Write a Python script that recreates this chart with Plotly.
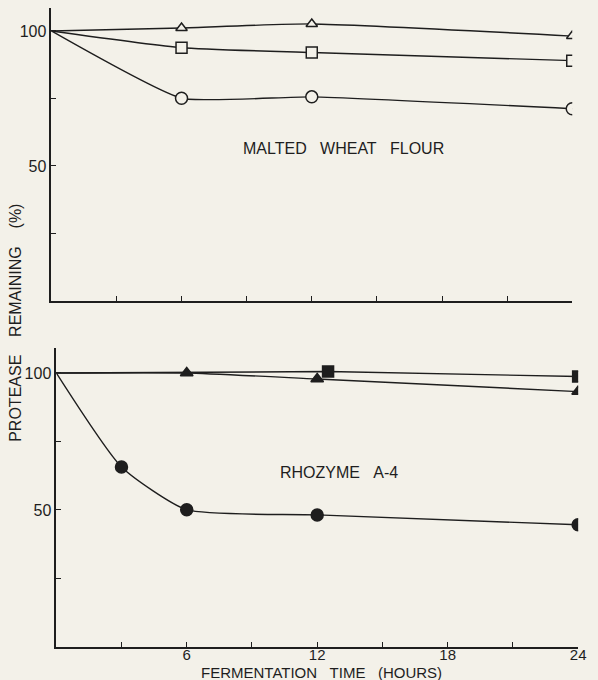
import plotly.graph_objects as go

# ---- data ----
hours_tri_top = [0, 6, 12, 24]
tri_top = [100, 101.1, 102.6, 98.1]
hours_sq_top = [0, 6, 12, 24]
sq_top = [100, 93.8, 92.0, 89.0]
hours_circ_top = [0, 6, 12, 24]
circ_top = [100, 75.1, 75.6, 71.2]

hours_circ_bot = [0, 3, 6, 12, 24]
circ_bot = [100, 65.7, 50.1, 48.2, 44.6]
hours_tri_bot = [0, 6, 12, 24]
tri_bot = [100, 100.0, 97.8, 93.2]
hours_sq_bot = [0, 12.5, 24]
sq_bot = [100, 100.5, 98.7]

x_tickvals = [3, 6, 9, 12, 15, 18, 21, 24]
x_ticktext = ["", "6", "", "12", "", "18", "", "24"]
y_tickvals = [25, 50, 75, 100]
y_ticktext = ["", "50", "", "100"]

BG = "#f3f1e9"
INK = "#1e1e1e"
FONT = "Liberation Sans, Arial, sans-serif"
SP = "\u00a0\u00a0\u00a0"

fig = go.Figure()

def add(xs, ys, symbol, filled, xa, ya, size=11, smooth=0.5):
    fig.add_trace(go.Scatter(
        x=xs, y=ys, mode="lines",
        line=dict(color=INK, width=1.4, shape="spline", smoothing=smooth),
        xaxis=xa, yaxis=ya, showlegend=False, hoverinfo="skip"))
    fig.add_trace(go.Scatter(
        x=xs[1:], y=ys[1:], mode="markers",
        marker=dict(symbol=symbol, size=size,
                    color=INK if filled else BG,
                    line=dict(color=INK, width=1.5)),
        xaxis=xa, yaxis=ya, showlegend=False))

add(hours_tri_top, tri_top, "triangle-up", False, "x", "y", 10)
add(hours_sq_top, sq_top, "square", False, "x", "y", 11)
add(hours_circ_top, circ_top, "circle", False, "x", "y", 12, 0.45)

add(hours_circ_bot, circ_bot, "circle", True, "x2", "y2", 12, 0.55)
add(hours_tri_bot, tri_bot, "triangle-up", True, "x2", "y2", 11)
add(hours_sq_bot, sq_bot, "square", True, "x2", "y2", 11)

axis_common = dict(showgrid=False, zeroline=False, showline=True,
                   linecolor=INK, linewidth=1.5, ticks="inside",
                   ticklen=5, tickwidth=1.3, tickcolor=INK)
tick_font = dict(family=FONT, size=16, color=INK)

ann_font = dict(family=FONT, size=16, color=INK)

fig.update_layout(
    width=598, height=680,
    margin=dict(l=0, r=0, t=0, b=0),
    paper_bgcolor=BG, plot_bgcolor=BG,
    xaxis=dict(domain=[52/598, 580/598], range=[0, 24], anchor="y",
               tickvals=x_tickvals, ticktext=[""]*len(x_tickvals),
               tickfont=tick_font, **axis_common),
    yaxis=dict(domain=[(680-301)/680, (680-8)/680], range=[0, 108.5], anchor="x",
               tickvals=y_tickvals, ticktext=y_ticktext,
               tickfont=tick_font, **axis_common),
    xaxis2=dict(domain=[57/598, 586/598], range=[0, 24], anchor="y2",
                tickvals=x_tickvals, ticktext=x_ticktext,
                ticklabelstandoff=-7,
                tickfont=dict(family=FONT, size=15, color=INK), **axis_common),
    yaxis2=dict(domain=[(680-647)/680, (680-348)/680], range=[0, 109.1], anchor="x2",
                tickvals=y_tickvals, ticktext=y_ticktext,
                tickfont=tick_font, **axis_common),
    annotations=[
        dict(text="MALTED" + SP + "WHEAT" + SP + "FLOUR",
             x=348/598, y=(680-148)/680, xref="paper", yref="paper",
             xanchor="center", yanchor="middle", showarrow=False, font=ann_font),
        dict(text="RHOZYME" + SP + "A-4",
             x=344/598, y=(680-472)/680, xref="paper", yref="paper",
             xanchor="center", yanchor="middle", showarrow=False, font=ann_font),
        dict(text="FERMENTATION" + SP + "TIME" + SP + "(HOURS)",
             x=326/598, y=(680-672)/680, xref="paper", yref="paper",
             xanchor="center", yanchor="middle", showarrow=False,
             font=dict(family=FONT, size=15, color=INK)),
        dict(text="PROTEASE" + SP + "\u00a0REMAINING" + SP + "\u00a0(%)",
             x=15/598, y=(680-323)/680, xref="paper", yref="paper",
             xanchor="center", yanchor="middle", showarrow=False, textangle=-90,
             font=ann_font),
    ],
)

fig.write_html(
    "out.html",
    config={"displayModeBar": False},
    post_script="document.body.style.margin='0';"
                "document.body.style.overflow='hidden';"
                "document.body.style.background='" + BG + "';",
)
